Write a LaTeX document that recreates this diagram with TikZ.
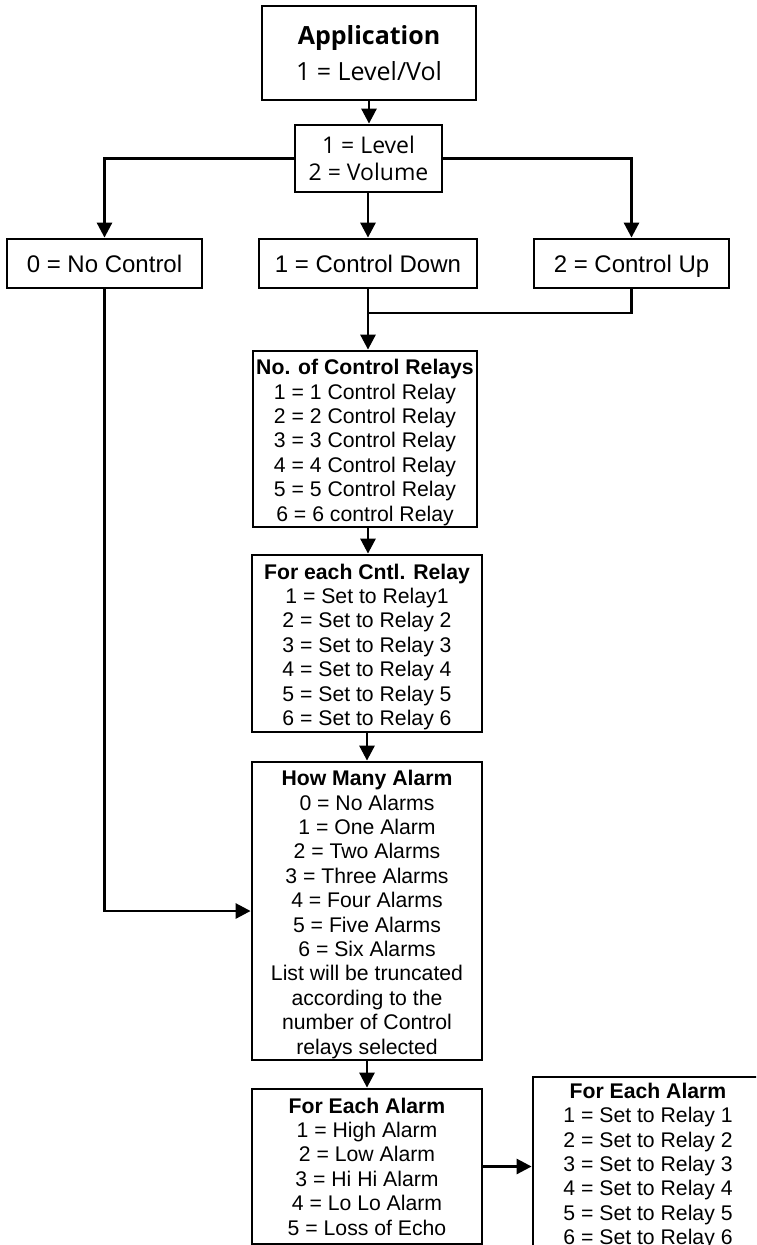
\documentclass[tikz,border=0pt]{standalone}
\usepackage{fontspec}
\setmainfont{Liberation Sans}
\newfontfamily\segoe{Open Sans}
\usetikzlibrary{arrows.meta}
\newcommand\hdstrut{\rule{0pt}{22pt}}
\begin{document}
\begin{tikzpicture}[x=1pt,y=-1pt,
  box/.style={draw, line width=2.8pt, inner sep=0pt, align=center, fill=white},
  relay/.style={box, font=\fontsize{21.2}{24.4}\selectfont},
  single/.style={box, font=\fontsize{24}{28}\selectfont, minimum height=49pt, text depth=0pt},
  arr/.style={line width=2.8pt, -{Triangle[length=15pt,width=15pt]}},
  ln/.style={line width=2.8pt}]
\clip (0,0) rectangle (756,1245);
\fill[white] (0,0) rectangle (756,1245);

% nodes
\node[box, minimum width=214pt, minimum height=94pt, font=\segoe\fontsize{25}{36}\selectfont] (app) at (369,53)
  {\textbf{Application}\\1 = Level/Vol};
\node[box, minimum width=147pt, minimum height=67pt, font=\segoe\fontsize{23}{27}\selectfont] (lvl) at (368.5,158.5)
  {1 = Level\\2 = Volume};
\node[single, minimum width=195pt] (noc) at (104.5,263.5) {0 = No Control};
\node[single, minimum width=218pt] (cdn) at (368,263.5) {1 = Control Down};
\node[single, minimum width=195pt] (cup) at (631.5,263.5) {2 = Control Up};
\node[relay, minimum width=224pt, minimum height=176pt] (ncr) at (365,439)
  {\hdstrut\textbf{No. of Control Relays}\\1 = 1 Control Relay\\2 = 2 Control Relay\\3 = 3 Control Relay\\4 = 4 Control Relay\\5 = 5 Control Relay\\6 = 6 control Relay};
\node[relay, minimum width=230pt, minimum height=177pt] (fcr) at (367,643.5)
  {\hdstrut\textbf{For each Cntl. Relay}\\1 = Set to Relay1\\2 = Set to Relay 2\\3 = Set to Relay 3\\4 = Set to Relay 4\\5 = Set to Relay 5\\6 = Set to Relay 6};
\node[relay, minimum width=230pt, minimum height=298pt] (hma) at (367,911)
  {\hdstrut\textbf{How Many Alarm}\\0 = No Alarms\\1 = One Alarm\\2 = Two Alarms\\3 = Three Alarms\\4 = Four Alarms\\5 = Five Alarms\\6 = Six Alarms\\List will be truncated\\according to the\\number of Control\\relays selected};
\node[relay, minimum width=230pt, minimum height=155pt] (fea) at (367,1166.5)
  {\textbf{For Each Alarm}\\1 = High Alarm\\2 = Low Alarm\\3 = Hi Hi Alarm\\4 = Lo Lo Alarm\\5 = Loss of Echo};
\node[relay, minimum width=230pt, minimum height=178pt] (fer) at (648,1166)
  {\textbf{For Each Alarm}\\1 = Set to Relay 1\\2 = Set to Relay 2\\3 = Set to Relay 3\\4 = Set to Relay 4\\5 = Set to Relay 5\\6 = Set to Relay 6};

\coordinate (m) at (368,313);

% connectors
\draw[arr] (app.south) -- (app.south |- lvl.north);
\draw[arr] (lvl.west) -| (noc.north);
\draw[arr] (lvl.east) -| (cup.north);
\draw[arr] (lvl.south) -- (lvl.south -| cdn.north) -- (cdn.north);
\draw[ln] (cdn.south) -- (m);
\draw[ln] (cup.south) |- (m);
\draw[arr] (m) -- (m |- ncr.north);
\draw[arr] (ncr.south -| m) -- (m |- fcr.north);
\draw[arr] (fcr.south) -- (hma.north);
\draw[arr] (noc.south) |- (hma.west);
\draw[arr] (hma.south) -- (fea.north);
\draw[arr] (fea.east) -- (fea.east -| fer.west);
\end{tikzpicture}
\end{document}
